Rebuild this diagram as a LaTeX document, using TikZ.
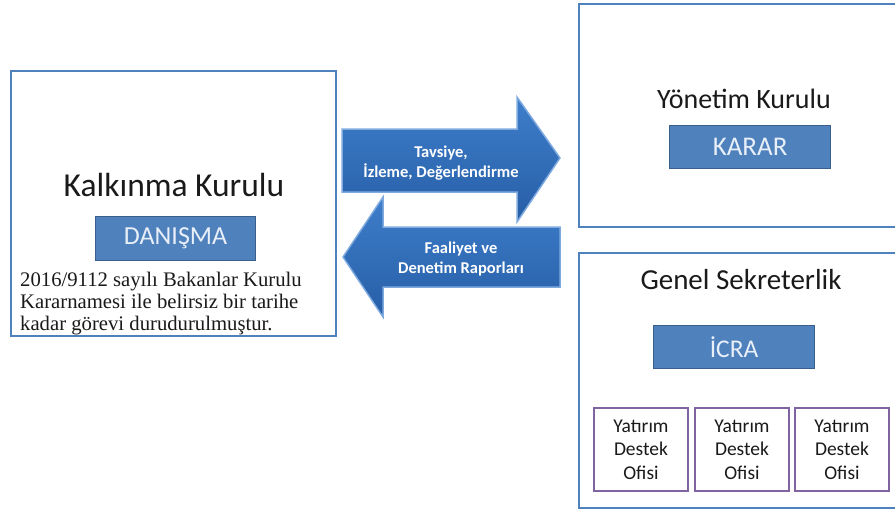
\documentclass[tikz,border=0pt]{standalone}
\usepackage{fontspec}
\setmainfont{Liberation Serif}
\newfontfamily\calfont{Carlito}
\definecolor{outerblue}{HTML}{4F81BD}
\definecolor{boxfill}{HTML}{4F81BD}
\definecolor{boxedge}{HTML}{3A5F8C}
\definecolor{boxtext}{HTML}{E8EFF8}
\definecolor{purp}{HTML}{8064A2}
\definecolor{arrtop}{HTML}{3E7ECB}
\definecolor{arrbot}{HTML}{275EA6}
\definecolor{arredge}{HTML}{7FAADF}
\definecolor{txt}{HTML}{1A1A1A}
\tikzset{
  outerbox/.style={draw=outerblue, line width=2pt, fill=white, anchor=north west, inner sep=0pt},
  rolebox/.style={draw=boxedge, line width=1.2pt, fill=boxfill, anchor=north west, inner sep=0pt,
     text=boxtext, font=\calfont\fontsize{26}{28}\selectfont},
  title/.style={text=txt, font=\calfont\fontsize{28}{32}\selectfont},
  officebox/.style={draw=purp, line width=2pt, fill=white, anchor=north west, inner sep=0pt,
     minimum width=94pt, minimum height=83pt, align=center, text=txt,
     font=\calfont\fontsize{19.5}{23.5}\selectfont},
  bigarrow/.style={top color=arrtop, bottom color=arrbot, draw=arredge, line width=1.5pt, line join=miter},
  arrtext/.style={text=white, align=center, font=\calfont\bfseries\fontsize{16.5}{20}\selectfont}
}
\begin{document}
\begin{tikzpicture}[x=1pt,y=-1pt]
\clip (0,0) rectangle (895,511);
\fill[white] (0,0) rectangle (895,511);
% outer boxes
\node[outerbox, minimum width=325pt, minimum height=265pt] (kk) at (10,70) {};
\node[outerbox, minimum width=330pt, minimum height=223pt] (yk) at (578,3) {};
\node[outerbox, minimum width=330pt, minimum height=255pt] (gs) at (578,252) {};
% left box content
\node[title, font=\calfont\fontsize{33.5}{36}\selectfont] (kkt) at (174,185) {Kalkınma Kurulu};
\node[rolebox, minimum width=160pt, minimum height=44pt] (dan) at (95,216) {DANIŞMA};
\node[anchor=north west, inner sep=0pt, align=left, text=txt,
      font=\fontsize{20.7}{22}\selectfont] (note) at (20,272)
  {2016/9112 sayılı Bakanlar Kurulu\\Kararnamesi ile belirsiz bir tarihe\\kadar görevi durudurulmuştur.};
% top right content
\node[title, font=\calfont\fontsize{28}{30}\selectfont] (ykt) at (744,99) {Yönetim Kurulu};
\node[rolebox, minimum width=161pt, minimum height=43pt, font=\calfont\fontsize{27}{28}\selectfont] (karar) at (669,125) {KARAR};
% bottom right content
\node[title, font=\calfont\fontsize{29}{30}\selectfont] (gst) at (741,280) {Genel Sekreterlik};
\node[rolebox, minimum width=161pt, minimum height=43pt, font=\calfont\fontsize{25.5}{28}\selectfont] (icra) at (653,325) {İCRA};
\node[officebox] (o1) at (593,407) {Yatırım\\Destek\\Ofisi};
\node[officebox] (o2) at (694,407) {Yatırım\\Destek\\Ofisi};
\node[officebox] (o3) at (794,407) {Yatırım\\Destek\\Ofisi};
% arrows
\path[bigarrow] (342,129) -- (517,129) -- (517,97) -- (560,158) -- (517,222) -- (517,192) -- (342,192) -- cycle;
\path[bigarrow] (560,227) -- (383,227) -- (383,197) -- (343,257) -- (383,317) -- (383,287) -- (560,287) -- cycle;
\node[arrtext] (a1) at (441,163) {Tavsiye,\\İzleme, Değerlendirme};
\node[arrtext] (a2) at (461,259) {Faaliyet ve\\Denetim Raporları};
\end{tikzpicture}
\end{document}
